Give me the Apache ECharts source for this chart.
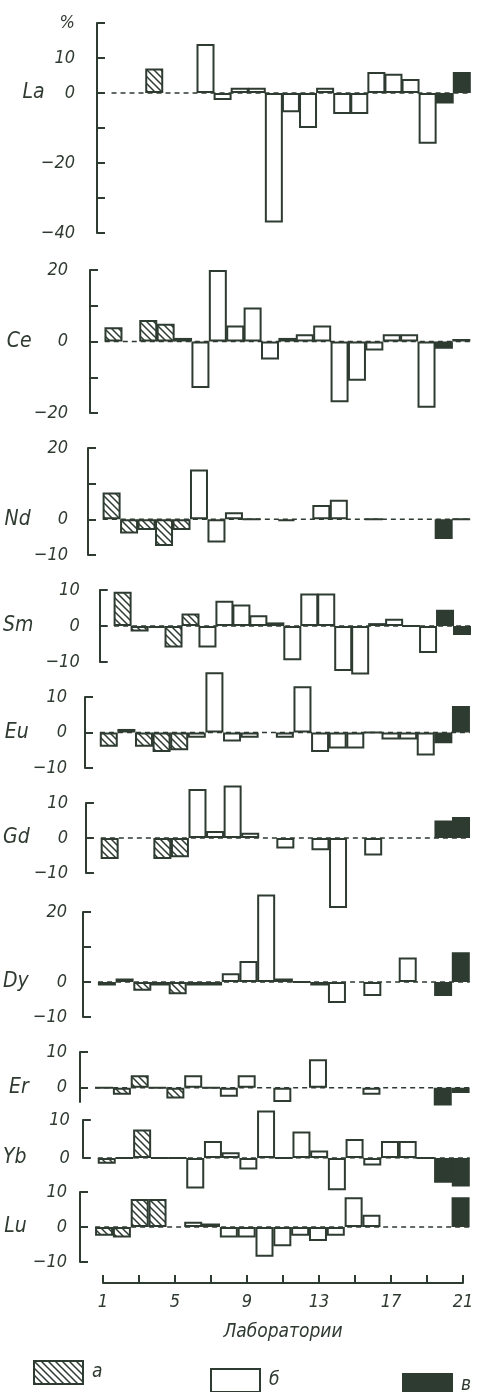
<!DOCTYPE html>
<html><head><meta charset="utf-8">
<script src="https://cdn.jsdelivr.net/npm/echarts@6/dist/echarts.min.js"></script>
<style>html,body{margin:0;padding:0;background:#fff}#c{width:490px;height:1392px}</style>
</head><body><div id="c"></div>
<script>
// ---------- data ----------
const labs = [1,2,3,4,5,6,7,8,9,10,11,12,13,14,15,16,17,18,19,20,21];
// group of each laboratory: а (hatched), б (open), в (solid)
const labType = ['а','а','а','а','а','б','б','б','б','б','б','б','б','б','б','б','б','б','б','в','в'];
const typeNames = ['а','б','в'];
const La = [null,null,7,null,null,14,-2,1.5,1.5,-37,-5.5,-10,1.5,-6,-6,6,5.5,4,-14.5,-3,6];
const Ce = [4,null,6,5,1,-13,20,4.5,9.5,-5,1,2,4.5,-17,-11,-2.5,2,2,-18.5,-2,0.7];
const Nd = [7.5,-4,-3,-7.5,-3,14,-6.5,2,0,null,-0.5,null,4,5.5,null,0,null,null,null,-5.5,0];
const Sm = [9.5,-1.5,-0.5,-6,3.5,-6,7,6,3,1,-9.5,9,9,-12.5,-13.5,0.8,2,0,-7.5,4.5,-2.5];
const Eu = [-4,1,-4,-5.5,-5,-1.5,17,-2.5,-1.5,null,-1.5,13,-5.5,-4.5,-4.5,0,-2,-2,-6.5,-3,7.5];
const Gd = [-6,null,null,-6,-5.5,14,2,15,1.5,null,-3,null,-3.5,-20,null,-5,null,null,null,5,6];
const Dy = [-1,1,-2.5,-1,-3.5,-1,-1,2.5,6,25,1,0,-1,-6,null,-4,null,7,null,-4,8.5];
const Er = [0,-2,3.5,0,-3,3.5,0,-2.5,3.5,null,-4,null,8,null,null,-2,null,null,null,-5,-1.5];
const Yb = [-1.5,0,7.5,0,0,-8,4.5,1.5,-3,12.5,0,7,2,-8.5,5,-2,4.5,4.5,0,-6.5,-7.5];
const Lu = [-2.5,-3,8,8,null,1.5,1,-3,-3,-8.5,-5.5,-2.5,-4,-2.5,8.5,3.5,null,null,null,null,8.5];
const bottomTickLabels = [1,5,9,13,17,21];
const xTitle = 'Лаборатории';

// ---------- layout ----------
const INK = '#2e3b31';
const TXT = '#2f3a31';
const FONT = "'Liberation Sans Narrow','DejaVu Sans Condensed','DejaVu Sans',sans-serif";
const panels = [
  {name:'La', vals:La, x:97, top:23,  h:210, min:-40, max:20, ticks:[-40,-30,-20,-10,0,10,20], labels:[-40,-20,0,10,20], margin:22, gap:20},
  {name:'Ce', vals:Ce, x:90, top:270, h:143, min:-20, max:20, ticks:[-20,-10,0,10,20], labels:[-20,0,20], margin:22, gap:26},
  {name:'Nd', vals:Nd, x:88, top:448, h:107, min:-10, max:20, ticks:[-10,0,10,20], labels:[-10,0,20], margin:20, gap:27},
  {name:'Sm', vals:Sm, x:87, top:590, h:72,  min:-10, max:10, ticks:[-10,0,10], labels:[-10,0,10], margin:20, gap:36},
  {name:'Eu', vals:Eu, x:85, top:697, h:71,  min:-10, max:10, ticks:[-10,0,10], labels:[-10,0,10], margin:18, gap:28},
  {name:'Gd', vals:Gd, x:85, top:803, h:70,  min:-10, max:10, ticks:[-10,0,10], labels:[-10,0,10], margin:18, gap:28},
  {name:'Dy', vals:Dy, x:83, top:912, h:105, min:-10, max:20, ticks:[-10,0,10,20], labels:[-10,0,20], margin:16, gap:28},
  {name:'Er', vals:Er, x:80, top:1052,h:50,  min:-4,  max:10, ticks:[0,10], labels:[0,10], margin:13, gap:28},
  {name:'Yb', vals:Yb, x:80, top:1120,h:38,  min:0,   max:10, ticks:[0,10], labels:[0,10], margin:13, gap:33},
  {name:'Lu', vals:Lu, x:80, top:1192,h:70,  min:-10, max:10, ticks:[-10,0,10], labels:[-10,0,10], margin:13, gap:30},
];
const XMIN = -0.35, XMAX = 22.65, PX = 18; // 18 px per laboratory

function hatch(){
  const s=7, c=document.createElement('canvas'); c.width=s; c.height=s;
  const g=c.getContext('2d'); g.fillStyle='#fff'; g.fillRect(0,0,s,s);
  g.strokeStyle=INK; g.lineWidth=1.5; g.beginPath();
  g.moveTo(-1,-1); g.lineTo(s+1,s+1);
  g.moveTo(-1,s-1); g.lineTo(1,s+1);
  g.moveTo(s-1,-1); g.lineTo(s+1,1);
  g.stroke(); return c;
}
const typeStyle = {
  'а': {color:{image:hatch(), repeat:'repeat'}, borderColor:INK, borderWidth:2},
  'б': {color:'#ffffff', borderColor:INK, borderWidth:2},
  'в': {color:INK, borderColor:INK, borderWidth:2}
};

const grid=[], xAxis=[], yAxis=[], series=[];
panels.forEach((p,i)=>{
  grid.push({left:p.x, top:p.top, width:(XMAX-XMIN)*PX, height:p.h});
  xAxis.push({gridIndex:i, type:'value', min:XMIN, max:XMAX, show:false});
  yAxis.push({
    gridIndex:i, type:'value', min:p.min, max:p.max,
    axisLine:{show:true, onZero:false, lineStyle:{color:INK, width:2}},
    axisTick:{show:true, inside:true, length:8, customValues:p.ticks, lineStyle:{color:INK, width:2}},
    splitLine:{show:false},
    axisLabel:{
      customValues:p.labels, margin:p.margin, color:TXT, fontFamily:FONT, fontStyle:'italic', fontSize:18,
      formatter:(v)=>{
        if (v===0) return '{el|'+p.name+'}{n|0}';
        if (p.name==='La' && v===20) return '{n|%}';
        return '{n|'+(v<0?'\u2212'+Math.abs(v):v)+'}';
      },
      rich:{
        el:{fontFamily:FONT, fontStyle:'italic', fontSize:21, color:TXT, padding:[0,p.gap,0,0]},
        n:{fontFamily:FONT, fontStyle:'italic', fontSize:18, color:TXT}
      }
    }
  });
  series.push({
    type:'line', xAxisIndex:i, yAxisIndex:i, silent:true, z:1, symbol:'none',
    data:[[0.5,0],[21.5,0]], lineStyle:{color:INK, width:1.5, type:[5,4]}
  });
  typeNames.forEach(t=>{
    const data=[];
    labs.forEach((l,k)=>{ if(labType[k]===t && p.vals[k]!==null) data.push([l,p.vals[k]]); });
    series.push({
      name:t, type:'bar', xAxisIndex:i, yAxisIndex:i, z:2, clip:false, silent:true,
      barWidth:PX, barGap:'-100%', data, itemStyle:typeStyle[t]
    });
  });
});
// bottom axis (laboratories)
const bi = panels.length;
grid.push({left:103, width:360, top:1270, height:13});
xAxis.push({
  gridIndex:bi, type:'value', min:1, max:21, interval:2, position:'bottom',
  axisLine:{show:true, onZero:false, lineStyle:{color:INK, width:2}},
  axisTick:{show:true, inside:true, length:8, lineStyle:{color:INK, width:2}},
  splitLine:{show:false},
  axisLabel:{margin:10, color:TXT, fontFamily:FONT, fontStyle:'italic', fontSize:18,
    formatter:(v)=> bottomTickLabels.includes(v) ? String(v) : ''},
  name:xTitle, nameLocation:'middle', nameGap:40,
  nameTextStyle:{color:TXT, fontFamily:FONT, fontStyle:'italic', fontSize:19}
});
yAxis.push({gridIndex:bi, type:'value', min:0, max:1, show:false});

const legendBase = {orient:'horizontal', itemWidth:49, itemHeight:23, icon:'rect', selectedMode:false,
  itemGap:0, textStyle:{color:TXT, fontFamily:FONT, fontStyle:'italic', fontSize:19, padding:[0,0,0,4]}};
const legend = [
  Object.assign({}, legendBase, {data:['а'], left:28, top:1355}),
  Object.assign({}, legendBase, {data:['б'], left:205, top:1363}),
  Object.assign({}, legendBase, {data:['в'], left:397, top:1368})
];

const chart = echarts.init(document.getElementById('c'), null, {renderer:'canvas'});
chart.setOption({animation:false, backgroundColor:'#ffffff', grid, xAxis, yAxis, series, legend});
</script></body></html>
